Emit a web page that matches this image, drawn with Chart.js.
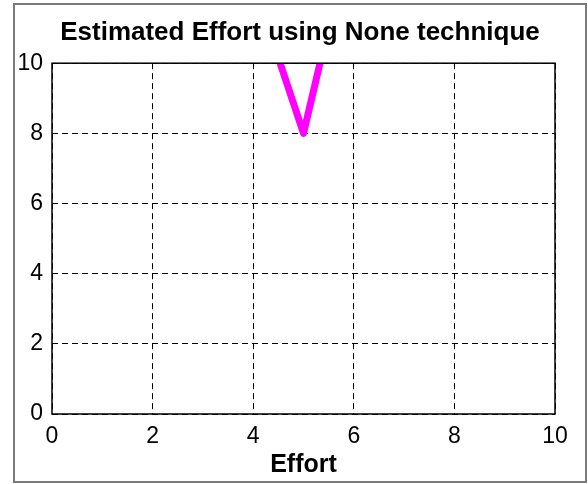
<!DOCTYPE html>
<html lang="en">
  <head>
    <meta charset="UTF-8" />
    <title>Estimated Effort using None technique</title>
  </head>
  <style>
    * {
      margin: 0;
      padding: 0;
    }
    body {
      background: white;
    }
  </style>
  <body>
    <canvas id="myChart" width="588" height="484"></canvas>

    <script src="https://cdn.jsdelivr.net/npm/chart.js"></script>

    <script>
      // data block
      const effortX = [4, 5, 6];
      const estimatedY = [12.3, 8, 14.1];
      const xTicks = [0, 2, 4, 6, 8, 10];
      const yTicks = [0, 2, 4, 6, 8, 10];

      const points = effortX.map((x, i) => ({ x: x, y: estimatedY[i] }));

      // solid box round the plot and the grey frame round the figure
      const frames = {
        id: "frames",
        afterDraw(chart) {
          const { ctx, chartArea: { left, top, right, bottom } } = chart;
          ctx.save();
          ctx.strokeStyle = "#000";
          ctx.lineWidth = 1.5;
          ctx.strokeRect(left, top, right - left, bottom - top);
          ctx.strokeStyle = "#7a7a7a";
          ctx.lineWidth = 2;
          ctx.strokeRect(14, 4, 572, 478);
          ctx.restore();
        }
      };

      const tickFont = { family: "'Liberation Sans', Arial", size: 23 };

      // config block
      const config = {
        type: "line",
        data: {
          datasets: [
            {
              data: points,
              borderColor: "#ff00ff",
              borderWidth: 7,
              borderJoinStyle: "round",
              borderCapStyle: "round",
              pointRadius: 0,
              tension: 0,
              clip: 0
            }
          ]
        },
        options: {
          responsive: false,
          animation: false,
          layout: { padding: { left: 12, right: 0, top: 0, bottom: 0 } },
          plugins: {
            legend: { display: false },
            tooltip: { enabled: false },
            title: {
              display: true,
              text: "Estimated Effort using None technique",
              color: "#000",
              font: { family: "'Liberation Sans', Arial", size: 26, weight: "bold" },
              padding: { top: 17, bottom: 15 }
            }
          },
          scales: {
            x: {
              type: "linear",
              min: 0,
              max: 10,
              afterBuildTicks(scale) {
                scale.ticks = xTicks.map(v => ({ value: v }));
              },
              afterFit(scale) {
                scale.height = 70;
              },
              grid: { color: "#000", lineWidth: 1, drawTicks: false },
              border: { display: false, dash: [6, 4] },
              ticks: { color: "#000", font: tickFont, padding: 9, maxRotation: 0 },
              title: {
                display: true,
                text: "Effort",
                color: "#000",
                font: { family: "'Liberation Sans', Arial", size: 25, weight: "bold" },
                padding: { top: 0, bottom: 4 }
              }
            },
            y: {
              type: "linear",
              min: 0,
              max: 10,
              afterBuildTicks(scale) {
                scale.ticks = yTicks.map(v => ({ value: v }));
              },
              afterFit(scale) {
                scale.width = 40;
              },
              grid: { color: "#000", lineWidth: 1, drawTicks: false },
              border: { display: false, dash: [6, 4] },
              ticks: { color: "#000", font: tickFont, padding: 9 }
            },
            // empty right margin so the title stays centred on the frame
            yRight: {
              type: "linear",
              position: "right",
              afterFit(scale) {
                scale.width = 33;
              },
              grid: { display: false },
              border: { display: false },
              ticks: { display: false }
            }
          }
        },
        plugins: [frames]
      };

      // init render block
      const myChart = new Chart(document.getElementById("myChart"), config);
    </script>
  </body>
</html>
